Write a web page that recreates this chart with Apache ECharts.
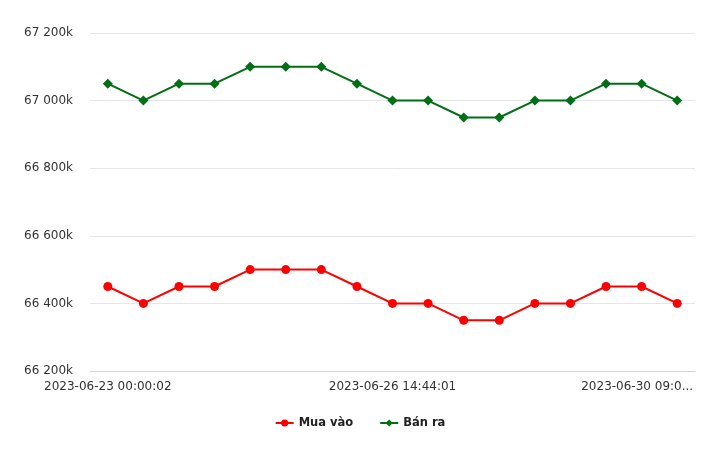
<!DOCTYPE html>
<html><head><meta charset="utf-8">
<script src="https://cdn.jsdelivr.net/npm/echarts@6/dist/echarts.min.js"></script>
<style>html,body{margin:0;padding:0;background:#fff}#c{width:720px;height:450px}</style>
</head><body><div id="c"></div>
<script>
const categories = ['2023-06-23 00:00:02','','','','','','','','2023-06-26 14:44:01','','','','','','','','2023-06-30 09:0...'];
const muaVao = [66450,66400,66450,66450,66500,66500,66500,66450,66400,66400,66350,66350,66400,66400,66450,66450,66400];
const banRa  = [67050,67000,67050,67050,67100,67100,67100,67050,67000,67000,66950,66950,67000,67000,67050,67050,67000];
const yMin = 66200, yMax = 67200, yStep = 200;

function fmtY(v){ const t = Math.floor(v/1000), r = v%1000; return t + ' ' + String(r).padStart(3,'0') + 'k'; }

const FONT = 'DejaVu Sans';
const chart = echarts.init(document.getElementById('c'));
chart.setOption({
  animation:false,
  textStyle:{fontFamily:FONT},
  grid:{left:90,right:25,top:33,bottom:79},
  xAxis:{type:'category',data:categories,boundaryGap:true,
    axisLine:{lineStyle:{color:'#ccd6eb'}},axisTick:{show:false},
    axisLabel:{interval:0,color:'#333',fontSize:12,margin:10,fontFamily:FONT,
      formatter:(v,i)=> i===categories.length-1 ? '{last|'+v+'}' : v,
      rich:{last:{padding:[0,80,0,0],color:'#333',fontSize:12,fontFamily:FONT}}}},
  yAxis:{type:'value',min:yMin,max:yMax,interval:yStep,
    axisLine:{show:false},axisTick:{show:false},
    splitLine:{lineStyle:{color:'#e6e6e6'}},
    axisLabel:{formatter:fmtY,color:'#333',fontSize:12,margin:17,fontFamily:FONT}},
  legend:{bottom:16,left:'center',itemWidth:18,itemHeight:9,itemGap:26,
    textStyle:{fontWeight:'bold',color:'#222',fontSize:11.5,fontFamily:FONT}},
  series:[
    {name:'Mua vào',type:'line',data:muaVao,color:'#ff0000',symbol:'circle',symbolSize:9,
     lineStyle:{width:2},itemStyle:{color:'#ff0000'}},
    {name:'Bán ra',type:'line',data:banRa,color:'#006e14',symbol:'diamond',symbolSize:10,
     lineStyle:{width:2},itemStyle:{color:'#006e14'}}
  ]
});
</script></body></html>
